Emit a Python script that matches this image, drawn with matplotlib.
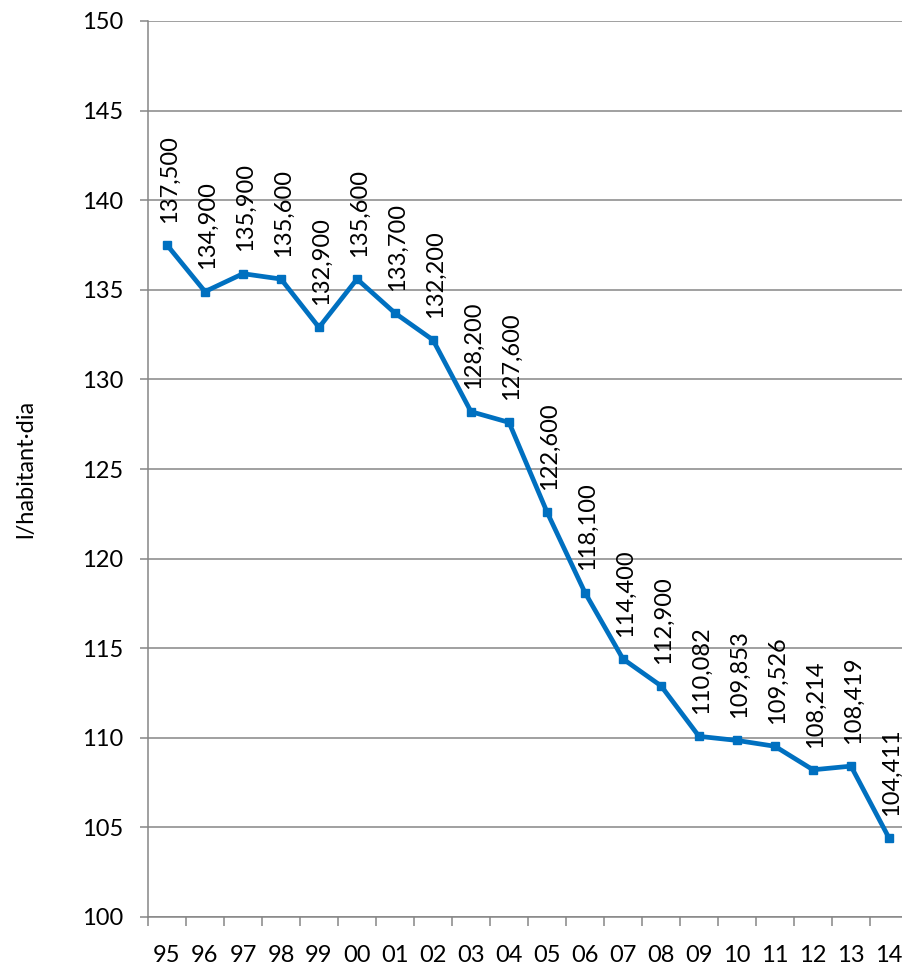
import matplotlib
matplotlib.use('Agg')
import matplotlib.pyplot as plt
from matplotlib.ticker import MultipleLocator, FixedLocator

years = ['95', '96', '97', '98', '99', '00', '01', '02', '03', '04',
         '05', '06', '07', '08', '09', '10', '11', '12', '13', '14']
consum = [137.500, 134.900, 135.900, 135.600, 132.900, 135.600, 133.700, 132.200,
          128.200, 127.600, 122.600, 118.100, 114.400, 112.900, 110.082, 109.853,
          109.526, 108.214, 108.419, 104.411]
y_label = 'l/habitant·dia'

blue = '#0070C0'
grey = '#868686'
fsize = 17

plt.rcParams['font.family'] = ['Lato', 'DejaVu Sans']

W, H = 902, 969
fig = plt.figure(figsize=(W/100, H/100), dpi=100)
ax = fig.add_axes([148/W, 52/H, 760/W, 896/H])

x = list(range(len(years)))
ax.plot(x, consum, color=blue, lw=3.4, marker='s', ms=6, zorder=3, clip_on=False)

# etiquetes de dades verticals sobre cada punt
for xi, v in zip(x, consum):
    txt = '{:.3f}'.format(v).replace('.', ',')
    ax.annotate(txt, (xi, v), xytext=(2, 16), textcoords='offset points',
                rotation=90, ha='center', va='bottom', fontsize=fsize)

ax.set_xlim(-0.5, len(years) - 0.5)
ax.set_ylim(100, 150)
ax.yaxis.set_major_locator(MultipleLocator(5))
ax.grid(axis='y', color=grey, lw=1.1, zorder=0)
ax.set_axisbelow(True)

ax.set_xticks(x)
ax.set_xticklabels(years)
ax.xaxis.set_minor_locator(FixedLocator([i - 0.5 for i in range(len(years) + 1)]))
ax.tick_params(axis='x', which='major', length=0, pad=20, labelsize=fsize)
ax.tick_params(axis='x', which='minor', length=6.5, width=1.1, color=grey)
ax.tick_params(axis='y', length=5.8, width=1.1, color=grey, pad=12, labelsize=fsize)

for s in ['top', 'right']:
    ax.spines[s].set_visible(False)
for s in ['left', 'bottom']:
    ax.spines[s].set_color(grey)
    ax.spines[s].set_linewidth(1.1)

ax.set_ylabel(y_label, fontsize=fsize, labelpad=33)

fig.savefig('out.png', dpi=100)
